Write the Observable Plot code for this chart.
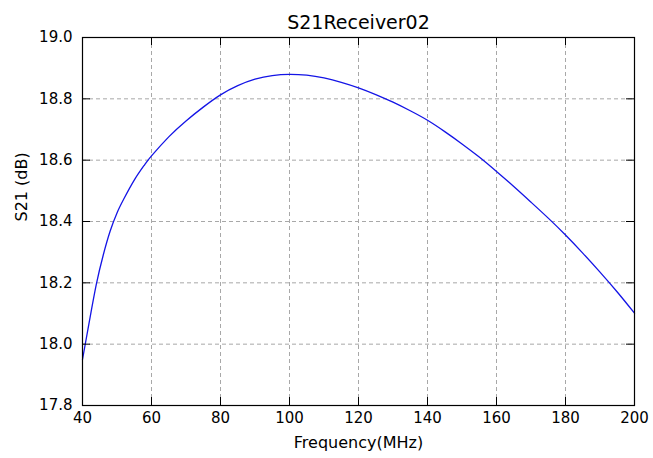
<!DOCTYPE html>
<html>
<head>
<meta charset="utf-8">
<script src="https://cdn.jsdelivr.net/npm/d3@7"></script>
<script src="https://cdn.jsdelivr.net/npm/@observablehq/plot@0.6"></script>
<style>
html, body { margin: 0; padding: 0; background: white; }
</style>
</head>
<body>
<div id="chart"></div>
<script>
const title = "S21Receiver02";
const xLabel = "Frequency(MHz)";
const yLabel = "S21 (dB)";
const xTicks = [40, 60, 80, 100, 120, 140, 160, 180, 200];
const yTicks = [17.8, 18.0, 18.2, 18.4, 18.6, 18.8, 19.0];

const freq = [40, 42, 44, 46, 48, 50, 52, 55, 58, 60, 65, 70, 75, 80, 85, 90, 95, 100,
  105, 110, 115, 120, 125, 130, 135, 140, 145, 150, 155, 160, 165, 170, 175, 180,
  185, 190, 195, 200];
const s21 = [17.95, 18.075, 18.195, 18.29, 18.368, 18.428, 18.474, 18.535, 18.585, 18.614,
  18.676, 18.728, 18.773, 18.813, 18.843, 18.864, 18.876, 18.880,
  18.877, 18.868, 18.854, 18.836, 18.814, 18.789, 18.761, 18.730, 18.693, 18.653,
  18.610, 18.563, 18.514, 18.463, 18.411, 18.356, 18.297, 18.235, 18.170, 18.101];

const data = freq.map((f, i) => ({f, v: s21[i]}));

const W = 653, H = 458;
const mL = 82, mR = 19, mT = 37, mB = 53;
const fw = W - mL - mR, fh = H - mT - mB;
const tickLen = 8;

const chart = Plot.plot({
  width: W,
  height: H,
  marginLeft: mL,
  marginRight: mR,
  marginTop: mT,
  marginBottom: mB,
  style: {fontFamily: "DejaVu Sans", fontSize: "15px", background: "white", color: "black"},
  x: {domain: [40, 200]},
  y: {domain: [17.8, 19.0]},
  marks: [
    Plot.gridX(xTicks, {stroke: "#a8a8a8", strokeOpacity: 1, strokeDasharray: "4,3", strokeWidth: 1}),
    Plot.gridY(yTicks, {stroke: "#a8a8a8", strokeOpacity: 1, strokeDasharray: "4,3", strokeWidth: 1}),
    Plot.line(data, {x: "f", y: "v", stroke: "#1414e6", strokeWidth: 1.3, curve: "natural"}),
    Plot.tickX(xTicks, {x: d => d, insetTop: fh - tickLen, stroke: "black"}),
    Plot.tickX(xTicks, {x: d => d, insetBottom: fh - tickLen, stroke: "black"}),
    Plot.tickY(yTicks, {y: d => d, insetRight: fw - tickLen, stroke: "black"}),
    Plot.tickY(yTicks, {y: d => d, insetLeft: fw - tickLen, stroke: "black"}),
    Plot.frame({stroke: "black", strokeWidth: 1.2}),
    Plot.axisX(xTicks, {tickSize: 0, tickPadding: 7, label: null, fontSize: 15}),
    Plot.axisY(yTicks, {tickSize: 0, tickPadding: 10, label: null, fontSize: 15, tickFormat: d3.format(".1f")}),
    Plot.text([title], {frameAnchor: "top", dy: -9, lineAnchor: "bottom", fontSize: 19}),
    Plot.text([xLabel], {frameAnchor: "bottom", dy: 42, lineAnchor: "bottom", fontSize: 16}),
    Plot.text([yLabel], {frameAnchor: "left", dx: -61, rotate: -90, fontSize: 16})
  ]
});
document.getElementById("chart").appendChild(chart);
</script>
</body>
</html>
